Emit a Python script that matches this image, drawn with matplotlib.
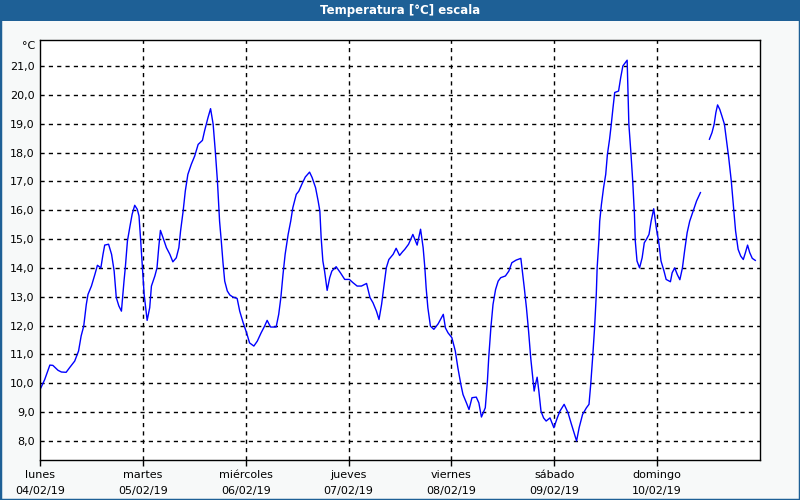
import numpy as np
import matplotlib
matplotlib.use("Agg")
import matplotlib.pyplot as plt
from matplotlib.patches import Rectangle
from matplotlib.ticker import FuncFormatter

title = "Temperatura [°C] escala"
unit = "°C"
day_names = ["lunes", "martes", "miércoles", "jueves", "viernes", "sábado", "domingo"]
day_dates = ["04/02/19", "05/02/19", "06/02/19", "07/02/19", "08/02/19", "09/02/19", "10/02/19"]

# hours since 04/02/19 00:00 and temperature (°C); NaN marks the data gap
hours = [0.2, 1.1, 2.3, 3.0, 4.2, 5.0, 6.1, 6.9, 8.1, 9.0, 9.6, 10.2, 10.8, 11.2, 12.0, 12.8,
         13.4, 14.2, 14.7, 15.1, 16.0, 16.7, 17.3, 17.8, 18.4, 19.0, 19.6, 19.9, 20.4, 21.0,
         21.5, 22.1, 22.7, 23.1, 23.5, 23.9, 24.3, 25.0, 25.6, 26.0, 26.8, 27.3, 27.7, 28.1,
         28.7, 29.5, 30.3, 31.0, 31.8, 32.4, 32.8, 33.4, 33.9, 34.5, 35.3, 36.1, 36.9, 37.9,
         38.4, 39.2, 39.8, 40.4, 40.9, 41.4, 41.9, 42.3, 42.7, 43.1, 43.7, 44.3, 45.0, 46.0,
         46.6, 47.4, 48.2, 48.9, 49.9, 50.7, 51.6, 52.4, 53.0, 53.8, 55.1, 55.7,
         56.2, 56.7, 57.2, 57.9, 58.5, 59.0, 59.8, 60.4, 61.1, 61.9, 62.9, 63.5, 64.3, 64.9,
         65.3, 65.6, 66.0, 66.4, 67.0, 67.6, 68.1, 69.1, 70.1, 71.1, 72.2, 73.0, 74.0, 75.0,
         76.2, 77.0, 77.7, 78.5, 79.1, 79.7, 80.3, 80.8, 81.4, 82.4, 83.1, 83.9, 84.6,
         85.1, 86.0, 87.0, 88.0, 88.8, 89.4, 89.8, 90.1, 90.5, 91.1, 91.9, 92.9, 94.1, 94.6,
         95.2, 96.1, 96.9, 97.5, 98.2, 98.7, 99.5, 100.1, 100.8, 101.8, 102.4, 103.0, 103.9,
         104.4, 104.7, 105.2, 105.7, 106.3, 106.9, 107.5, 108.6, 109.4, 110.1, 111.1,
         112.2, 112.5, 113.0, 113.5, 114.0, 114.5, 114.9, 115.3, 115.6, 116.0, 116.4, 116.9,
         117.5, 118.1, 119.0, 119.9, 120.7, 121.3, 122.3, 123.2, 124.0, 125.2, 125.8, 126.6,
         127.5, 128.1, 128.5, 129.0, 129.4, 129.8, 130.0, 130.4, 130.6, 131.0, 131.5, 132.0,
         132.4, 132.9, 133.3, 133.7, 134.1, 135.0, 135.5, 136.0, 136.6, 137.0, 137.4, 137.9,
         138.3, 138.7, 138.9, 139.3, 139.9,
         140.5, 141.0, 141.5, 142.1, 142.6, 143.2, 143.8, 144.4, 144.9, 145.6, 146.1, 147.1,
         147.5, 148.1, 148.7, 149.3, 149.9, 150.4, 151.0, 151.6, 152.4, 153.2, 154.1, 155.0,
         156.2, 156.8, 157.3, 157.7, 158.1, 158.6, 159.1, 159.7, 160.1, 160.7, 161.3, 161.9,
         162.3, 162.9, 163.5, 164.1, 164.6, 165.1, 165.6, 166.2, 166.9]
temps = [9.84, 10.13, 10.63, 10.62, 10.45, 10.39, 10.38, 10.54, 10.77, 11.12, 11.64, 11.98, 12.73, 13.08, 13.37, 13.77,
         14.09, 14.00, 14.47, 14.79, 14.82, 14.47, 13.89, 12.97, 12.68, 12.50, 13.54, 14.00, 14.93, 15.45,
         15.86, 16.17, 16.03, 15.80, 14.93, 14.00, 13.08, 12.18, 12.62, 13.37, 13.72, 14.00, 14.70, 15.30,
         15.05, 14.70, 14.47, 14.21, 14.35, 14.70, 15.28, 15.97, 16.66, 17.24, 17.59, 17.88, 18.28, 18.42,
         18.75, 19.21, 19.52, 18.98, 18.05, 17.01, 15.62, 14.93, 14.18, 13.54, 13.20, 13.06, 12.99, 12.94,
         12.50, 12.10, 11.75, 11.40, 11.29, 11.46, 11.75, 11.98, 12.18, 11.95, 11.95, 12.39,
         12.97, 13.77, 14.47, 15.16, 15.62, 16.09, 16.55, 16.66, 16.90, 17.15, 17.32, 17.13, 16.78, 16.32,
         15.97, 15.05, 14.24, 13.89, 13.22, 13.66, 13.89, 14.04, 13.83, 13.60, 13.60, 13.49, 13.37, 13.37,
         13.46, 12.97, 12.79, 12.50, 12.21, 12.73, 13.43, 14.00, 14.29, 14.47, 14.68, 14.43, 14.56,
         14.64, 14.82, 15.16, 14.79, 15.34, 14.70, 14.00, 13.31, 12.62, 11.98, 11.87, 12.06, 12.39, 11.92,
         11.75, 11.58, 11.12, 10.54, 9.96, 9.61, 9.32, 9.09, 9.50, 9.52, 9.32, 8.83, 9.15,
         10.08, 10.88, 11.92, 12.73, 13.25, 13.54, 13.66, 13.72, 13.89, 14.18, 14.27,
         14.33, 13.95, 13.31, 12.62, 11.81, 10.88, 10.31, 9.73, 9.96, 10.21, 9.73, 9.03,
         8.80, 8.69, 8.80, 8.46, 8.80, 9.03, 9.27, 8.98, 8.58, 8.00, 8.46, 8.92,
         9.15, 9.27, 9.96, 11.00, 11.92, 13.08, 14.00, 14.93, 15.62, 16.20, 16.78, 17.24,
         17.94, 18.46, 18.98, 19.55, 20.08, 20.13, 20.60, 21.00, 21.12, 21.20, 18.98, 17.94,
         17.01, 15.86, 14.93, 14.24, 14.00,
         14.35, 14.87, 14.99, 15.16, 15.62, 16.05, 15.39, 14.87, 14.24, 13.89, 13.60, 13.52,
         13.83, 14.00, 13.77, 13.59, 14.00, 14.58, 15.22, 15.62, 15.97, 16.32, 16.61, np.nan,
         18.46, 18.69, 18.98, 19.38, 19.65, 19.50, 19.27, 18.98, 18.51, 17.82, 17.01, 15.97,
         15.28, 14.64, 14.41, 14.29, 14.53, 14.79, 14.53, 14.33, 14.26]

y_ticks = list(range(8, 22))

fig = plt.figure(figsize=(8, 5), dpi=100)
fig.patch.set_facecolor("#f7f9f9")

# title bar
fig.patches.append(Rectangle((0, 1 - 21 / 500), 1, 21 / 500, transform=fig.transFigure,
                             facecolor="#1e6096", edgecolor="none", zorder=0))
fig.text(0.5, 1 - 10.5 / 500, title, color="white", fontsize=8.5, fontweight="bold",
         ha="center", va="center")
# window border
fig.patches.append(Rectangle((0, 0), 1, 1, transform=fig.transFigure, facecolor="none",
                             edgecolor="#1e6096", linewidth=2.5, zorder=0))

ax = fig.add_axes([40 / 800, 40 / 500, 720 / 800, 420 / 500])
ax.set_facecolor("white")
x = np.array(hours) / 24.0
ax.plot(x, temps, color="#0000ff", linewidth=1.0)

ax.set_xlim(0, 7)
ax.set_ylim(7.34, 21.9)

ax.set_xticks(range(7))
ax.set_xticklabels([f"{n}\n{d}" for n, d in zip(day_names, day_dates)], fontsize=8,
                   linespacing=1.75)
ax.set_yticks(y_ticks)
ax.yaxis.set_major_formatter(FuncFormatter(lambda v, p: f"{v:.1f}".replace(".", ",")))
ax.tick_params(axis="y", length=0, pad=4, labelsize=8)
ax.tick_params(axis="x", length=4, width=1, direction="out", pad=3)

for d in range(1, 7):
    ax.axvline(d, color="black", linestyle=(0, (3, 3)), linewidth=1, zorder=1)
for v in y_ticks:
    ax.axhline(v, color="black", linestyle=(0, (3, 3)), linewidth=1, zorder=1)

for s in ax.spines.values():
    s.set_color("black")
    s.set_linewidth(1)

ax.text(-0.006, 0.998, unit, transform=ax.transAxes, ha="right", va="top", fontsize=8)

fig.savefig("out.png", dpi=100, facecolor=fig.get_facecolor())
